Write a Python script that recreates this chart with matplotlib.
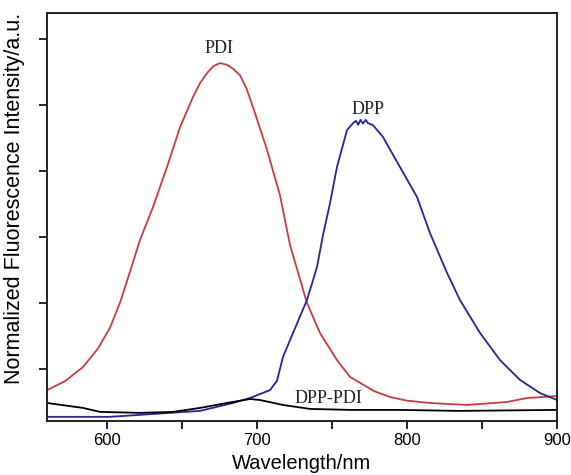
import numpy as np
import matplotlib
matplotlib.use('Agg')
import matplotlib.pyplot as plt
from matplotlib.ticker import MultipleLocator, NullFormatter


# PDI emission (red)
pdi_wl = [560, 572, 584, 594, 602, 609, 615, 622, 630.7, 640, 648.7, 657.3, 662,
          666.7, 671, 675.3, 680, 684, 688.7, 693, 697.3, 706.7, 715.3, 722, 733.3,
          742, 753.3, 762, 768.7, 778, 788.7, 800, 815.3, 840, 866.7, 880, 900]
pdi_int = [0.136, 0.163, 0.206, 0.262, 0.325, 0.405, 0.490, 0.591, 0.691, 0.812, 0.933,
           1.024, 1.066, 1.097, 1.118, 1.127, 1.122, 1.110, 1.090, 1.050, 0.994, 0.864,
           0.727, 0.576, 0.400, 0.309, 0.227, 0.176, 0.158, 0.133, 0.115, 0.104, 0.097,
           0.091, 0.100, 0.112, 0.118]

# DPP emission (blue)
dpp_wl = [560, 602, 622, 662, 684, 695.3, 708.7, 713.3, 717.3, 724, 733.3, 740, 744,
          748.7, 753.3, 760, 764, 766, 767.5, 769, 770.7, 772.5, 774, 777.3, 784,
          795.3, 806.7, 815.3, 826.7, 835.3, 848.7, 862, 875.3, 888.7, 900]
dpp_int = [0.055, 0.055, 0.061, 0.073, 0.097, 0.112, 0.136, 0.164, 0.236, 0.309, 0.409,
           0.509, 0.606, 0.703, 0.812, 0.924, 0.945, 0.952, 0.940, 0.955, 0.944, 0.955,
           0.945, 0.939, 0.903, 0.812, 0.721, 0.612, 0.491, 0.409, 0.309, 0.227, 0.167,
           0.127, 0.106]

# DPP-PDI emission (black)
mix_wl = [560, 584, 595.3, 622, 644, 662, 680, 695.3, 702, 717.3, 735.3, 762, 795,
          835, 900]
mix_int = [0.097, 0.082, 0.070, 0.067, 0.070, 0.082, 0.097, 0.109, 0.106, 0.091,
           0.079, 0.076, 0.076, 0.073, 0.076]

fig = plt.figure(figsize=(5.71, 4.75), dpi=100)
ax = fig.add_axes([0.0823, 0.1137, 0.8932, 0.8589])

ax.plot(pdi_wl, pdi_int, color='#cc3b3b', lw=1.3)
ax.plot(dpp_wl, dpp_int, color='#25259a', lw=1.3)
ax.plot(mix_wl, mix_int, color='black', lw=1.3)

ax.text(675, 1.145, 'PDI', ha='center', va='bottom', family='Liberation Serif', fontsize=13, color='#222222')
ax.text(774, 0.962, 'DPP', ha='center', va='bottom', family='Liberation Serif', fontsize=13, color='#222222')
ax.text(725, 0.086, 'DPP-PDI', ha='left', va='bottom', family='Liberation Serif', fontsize=13, color='#222222')

ax.set_xlim(560, 900)
ax.set_ylim(0.0424, 1.2788)
ax.xaxis.set_major_locator(MultipleLocator(100))
ax.xaxis.set_minor_locator(MultipleLocator(50))
ax.yaxis.set_major_locator(MultipleLocator(0.2))
ax.yaxis.set_major_formatter(NullFormatter())
ax.tick_params(axis='both', which='both', direction='out', length=6, width=1.2)
ax.tick_params(axis='x', labelsize=12, pad=3)
for lab in ax.get_xticklabels():
    lab.set_family('Liberation Sans')
for s in ax.spines.values():
    s.set_linewidth(1.4)
    s.set_color('#222222')

ax.set_xlabel('Wavelength/nm', family='Liberation Sans', fontsize=14.5)
ax.set_ylabel('Normalized Fluorescence Intensity/a.u.', family='Liberation Sans', fontsize=15.5)
ax.xaxis.set_label_coords(0.5, -0.08)
ax.yaxis.set_label_coords(-0.043, 0.545)

plt.savefig('out.png', dpi=100)
